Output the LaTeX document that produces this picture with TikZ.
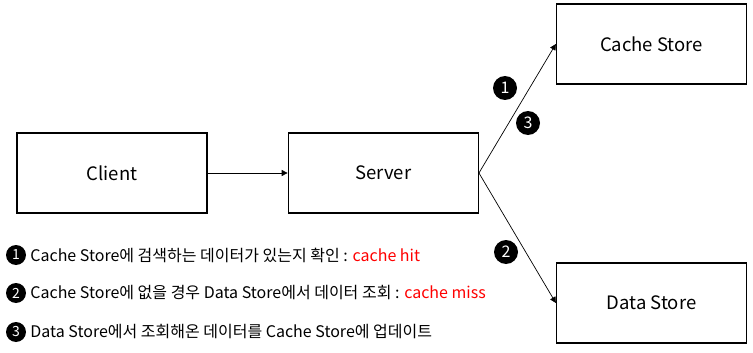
\documentclass[tikz,border=0pt]{standalone}
\usepackage{fontspec}
\setmainfont{Noto Sans CJK KR}
\usetikzlibrary{arrows.meta, positioning}

\begin{document}
\begin{tikzpicture}[
    x=1pt, y=-1pt,
    box/.style={rectangle, draw, line width=1.3pt, minimum width=190pt, minimum height=80pt, align=center, font=\fontsize{18.5}{20}\selectfont},
    badge/.style={circle, fill=black, text=white, minimum size=24pt, inner sep=0pt, font=\fontsize{16}{17}\selectfont},
    smallbadge/.style={badge, minimum size=20pt, font=\fontsize{14}{15}\selectfont},
    legend/.style={anchor=west, inner sep=0pt, font=\fontsize{16}{17}\selectfont},
    arrow/.style={-{Triangle[length=6pt, width=6pt]}, line width=0.7pt},
    node distance=80pt
  ]
    \useasboundingbox (0,0) rectangle (753,353);

    % Boxes
    \node[box] (client) at (112,173) {Client};
    \node[box, right=of client] (server) {Server};
    \node[box] (cache) at (651.5,44) {Cache Store};
    \node[box] (data) at (651.5,303) {Data Store};

    % Arrows
    \draw[arrow] (client) -- (server);
    \draw[arrow] (server.east) -- (cache.west);
    \draw[arrow] (server.east) -- (data.west);

    % Step numbers
    \node[badge] (n1) at (505,88) {1};
    \node[badge] (n3) at (528,123) {3};
    \node[badge] (n2) at (506,252) {2};

    % Legend
    \node[smallbadge] (l1) at (16,255) {1};
    \node[legend, right=4pt of l1] (t1) {Cache Store에 검색하는 데이터가 있는지 확인 : \textcolor{red}{cache hit}};
    \node[smallbadge] (l2) at (16,293) {2};
    \node[legend, right=4pt of l2] (t2) {Cache Store에 없을 경우 Data Store에서 데이터 조회 : \textcolor{red}{cache miss}};
    \node[smallbadge] (l3) at (16,332) {3};
    \node[legend, right=4pt of l3] (t3) {Data Store에서 조회해온 데이터를 Cache Store에 업데이트};
\end{tikzpicture}
\end{document}
